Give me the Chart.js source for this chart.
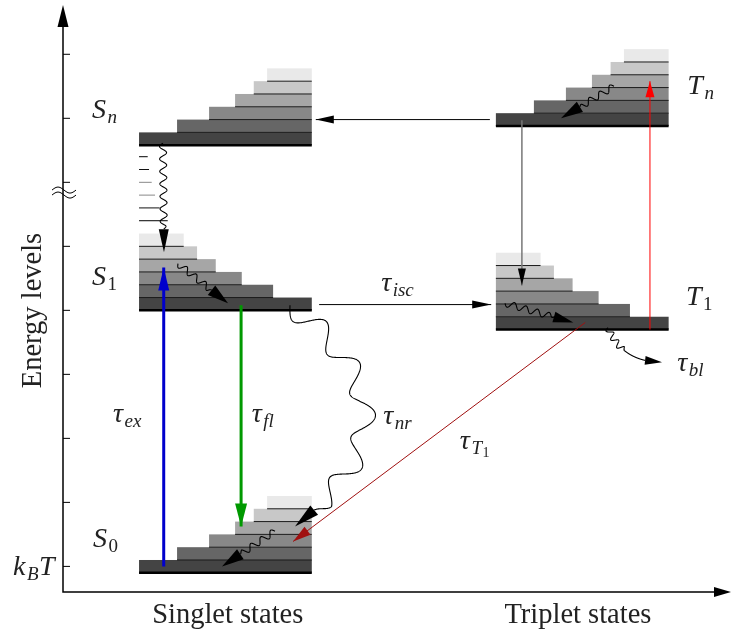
<!DOCTYPE html>
<html>
<head>
<meta charset="utf-8">
<script src="https://cdn.jsdelivr.net/npm/chart.js@4.4.1/dist/chart.umd.min.js"></script>
<style>
  html, body { margin: 0; padding: 0; background: #fff; }
  #wrap { width: 736px; height: 633px; }
</style>
</head>
<body>
<div id="wrap"><canvas id="chart"></canvas></div>
<script>
// energy axis ticks and the break mark
const yTicks = [0, 1, 2, 3, 4, 5, 6, 7, 8];
const breakAt = 5.84;

// electronic states: left edge, lowest level, stair direction
const levelNames = ["S0", "S1", "Sn", "T1", "Tn"];
const levelLeft = [11.4, 11.4, 11.4, 64.9, 64.9];
const levelBase = [-0.1, 4.0, 6.58, 3.7, 6.88];
const levelStairs = ["up", "down", "up", "down", "up"];
const levelWidth = 25.9;
const bandHeight = 0.2;
const stairUpStart = [0, 5.7, 10.5, 14.4, 17.2, 19.2];
const stairDownWidth = [25.9, 20.1, 15.4, 11.5, 8.7, 6.7];
const bandShades = ["#444444", "#666666", "#888888", "#a6a6a6", "#c8c8c8", "#e9e9e9"];

// vibrational dashes between S1 and Sn
const dashLevels = [5.4, 5.6, 5.8, 6.0, 6.2, 6.4];
const dashRight = [15.7, 14.5, 13.8, 13.3, 12.9, 12.7];
const dashShade = ["#000000", "#111111", "#888888", "#888888", "#111111", "#000000"];

// straight transitions
const arrowFrom = [[64.0, 6.98], [68.8, 6.97], [88.0, 3.70], [38.4, 4.09], [15.1, 0.0], [26.7, 4.08], [78.3, 3.81]];
const arrowTo = [[37.9, 6.98], [68.8, 4.39], [88.0, 7.58], [64.2, 4.09], [15.1, 4.67], [26.7, 0.625], [34.5, 0.39]];
const arrowColor = ["#000000", "#777777", "#ff0000", "#000000", "#0000cc", "#009900", "#a01010"];
const arrowHeadColor = ["#000000", "#000000", "#ff0000", "#000000", "#0000cc", "#009900", "#a01010"];
const arrowWidth = [1, 1.5, 1, 1, 3, 3, 1];
const arrowHead = [18, 17, 16, 19, 23, 23, 18];
const arrowHalf = [4, 4, 4.5, 4, 5.5, 6, 5];

// wavy (non-radiative) transitions: start, bend, tip
const waveFrom = [[14.99, 6.61], [17.24, 4.73], [34.03, 4.08], [31.78, 0.55], [82.61, 7.5], [66.27, 4.11], [81.71, 3.73]];
const waveBend = [null, null, [56.0, 2.36], null, null, null, [83.81, 3.19]];
const waveTo = [[15.14, 4.906], [24.74, 4.109], [34.78, 0.625], [23.84, 0.0], [74.66, 7.0], [76.5, 3.81], [89.81, 3.19]];
const waveAmp = [3.5, 3.2, 11, 3.2, 3.2, 3.2, 3.2];
const waveLen = [12.5, 12, 50, 12, 12, 12, 9.5];
const waveSpan = [1, 1, 1, 1, 1, 1, 0.55];
const waveHead = [23, 21, 25, 22, 22, 20, 17];
const waveHalf = [5, 6, 6, 6, 6, 5.5, 4.5];

// symbols: pieces are [text, level] with 0 = normal, 1 = subscript, 2 = sub-subscript
const labelX = [4.35, 4.35, 4.5, -7.5, 93.6, 93.4, 47.7, 7.5, 28.3, 48.0, 59.5, 92.1];
const labelY = [7.0, 4.39, 0.31, -0.14, 7.375, 4.08, 4.30, 2.25, 2.25, 2.23, 1.84, 3.06];
const labelParts = [
  [["S", 0], ["n", 1]],
  [["S", 0], ["1", 1]],
  [["S", 0], ["0", 1]],
  [["k", 0], ["B", 1], ["T", 0]],
  [["T", 0], ["n", 1]],
  [["T", 0], ["1", 1]],
  [["τ", 0], ["isc", 1]],
  [["τ", 0], ["ex", 1]],
  [["τ", 0], ["fl", 1]],
  [["τ", 0], ["nr", 1]],
  [["τ", 0], ["T", 1], ["1", 2]],
  [["τ", 0], ["bl", 1]]
];

const axisTitleY = "Energy levels";
const groupNames = ["Singlet states", "Triplet states"];
const groupCenter = [24.7, 77.2];

const serif = '"Liberation Serif", "DejaVu Serif", serif';

function bez(p0, p1, p2, t) {
  const u = 1 - t;
  return [u * u * p0[0] + 2 * u * t * p1[0] + t * t * p2[0],
          u * u * p0[1] + 2 * u * t * p1[1] + t * t * p2[1]];
}

function headAt(ctx, bx, by, tx, ty, hw, color) {
  const dx = tx - bx, dy = ty - by, l = Math.hypot(dx, dy) || 1;
  const nx = -dy / l, ny = dx / l;
  ctx.fillStyle = color;
  ctx.beginPath();
  ctx.moveTo(tx, ty);
  ctx.lineTo(bx + nx * hw, by + ny * hw);
  ctx.lineTo(bx - nx * hw, by - ny * hw);
  ctx.closePath();
  ctx.fill();
}

function drawWave(ctx, p0, p1, p2, amp, wl, span, head, hw) {
  const N = 600, pts = [], lens = [0];
  let L = 0;
  for (let i = 0; i <= N; i++) {
    pts.push(bez(p0, p1, p2, i / N));
    if (i) { L += Math.hypot(pts[i][0] - pts[i - 1][0], pts[i][1] - pts[i - 1][1]); lens.push(L); }
  }
  const endL = L - head, waveEnd = endL * span;
  ctx.strokeStyle = "#000";
  ctx.lineWidth = 1.1;
  ctx.beginPath();
  let last = 0;
  for (let i = 0; i <= N; i++) {
    const s = lens[i];
    if (s > endL) break;
    last = i;
    const a = Math.min(i, N - 1);
    const tx = pts[a + 1][0] - pts[a][0], ty = pts[a + 1][1] - pts[a][1], tl = Math.hypot(tx, ty) || 1;
    const env = Math.max(0, Math.min(1, (waveEnd - s) / (wl * 0.3)));
    const off = amp * Math.sin(2 * Math.PI * s / wl) * env;
    const px = pts[i][0] - ty / tl * off, py = pts[i][1] + tx / tl * off;
    if (i === 0) ctx.moveTo(px, py); else ctx.lineTo(px, py);
  }
  ctx.stroke();
  headAt(ctx, pts[last][0], pts[last][1], p2[0], p2[1], hw, "#000");
}

function drawLabel(ctx, x, y, parts) {
  let cx = x;
  ctx.textBaseline = "alphabetic";
  ctx.textAlign = "left";
  ctx.fillStyle = "#222";
  parts.forEach(([t, lvl]) => {
    const size = lvl === 0 ? 28 : lvl === 1 ? 19 : 14;
    const dy = lvl === 0 ? 0 : lvl === 1 ? 5 : 8;
    const italic = /[0-9]/.test(t) ? "" : "italic ";
    ctx.font = italic + size + "px " + serif;
    ctx.fillText(t, cx, y + dy);
    cx += ctx.measureText(t).width + (lvl === 0 ? 1.5 : 0.5);
  });
}

const diagram = {
  id: "jablonski",
  beforeDatasetsDraw(chart) {
    const { ctx, scales: { x, y } } = chart;
    const X = v => x.getPixelForValue(v), Y = v => y.getPixelForValue(v);
    ctx.save();
    levelNames.forEach((name, i) => {
      for (let k = 0; k < bandShades.length; k++) {
        const lo = levelBase[i] + k * bandHeight, hi = lo + bandHeight;
        let a, b;
        if (levelStairs[i] === "up") { a = levelLeft[i] + stairUpStart[k]; b = levelLeft[i] + levelWidth; }
        else { a = levelLeft[i]; b = levelLeft[i] + stairDownWidth[k]; }
        ctx.fillStyle = bandShades[k];
        ctx.fillRect(X(a), Y(hi), X(b) - X(a), Y(lo) - Y(hi));
      }
      for (let k = 0; k < bandShades.length; k++) {
        const lo = levelBase[i] + k * bandHeight;
        let a, b;
        if (levelStairs[i] === "up") { a = levelLeft[i] + stairUpStart[k]; b = levelLeft[i] + levelWidth; }
        else { a = levelLeft[i]; b = levelLeft[i] + stairDownWidth[k]; }
        ctx.strokeStyle = k === 0 ? "#000" : "#1a1a1a";
        ctx.lineWidth = k === 0 ? 2.5 : 1;
        ctx.beginPath();
        ctx.moveTo(X(a), Y(lo));
        ctx.lineTo(X(b), Y(lo));
        ctx.stroke();
      }
    });
    dashLevels.forEach((v, i) => {
      ctx.strokeStyle = dashShade[i];
      ctx.lineWidth = 1;
      ctx.beginPath();
      ctx.moveTo(X(levelLeft[1]), Y(v));
      ctx.lineTo(X(dashRight[i]), Y(v));
      ctx.stroke();
    });
    ctx.restore();
  },
  afterDraw(chart) {
    const { ctx, chartArea: area, scales: { x, y } } = chart;
    const X = v => x.getPixelForValue(v), Y = v => y.getPixelForValue(v);
    ctx.save();

    // axes with arrows
    ctx.strokeStyle = "#000";
    ctx.lineWidth = 1.5;
    ctx.beginPath();
    ctx.moveTo(area.left, area.top + 15);
    ctx.lineTo(area.left, area.bottom);
    ctx.lineTo(area.right - 12, area.bottom);
    ctx.stroke();
    headAt(ctx, area.left, area.top + 22, area.left, area.top, 5.5, "#000");
    headAt(ctx, area.right - 16, area.bottom, area.right + 1, area.bottom, 5, "#000");

    ctx.lineWidth = 1;
    yTicks.forEach(v => {
      ctx.beginPath();
      ctx.moveTo(area.left, Y(v));
      ctx.lineTo(area.left + 7, Y(v));
      ctx.stroke();
    });

    // axis break
    const by = Y(breakAt);
    [-2.5, 2.5].forEach(o => {
      ctx.beginPath();
      for (let i = 0; i <= 24; i++) {
        const px = area.left - 11 + i;
        const py = by + o - 3 * Math.sin((i / 24) * 2 * Math.PI);
        if (i === 0) ctx.moveTo(px, py); else ctx.lineTo(px, py);
      }
      ctx.stroke();
    });

    // straight arrow heads
    arrowTo.forEach((t, i) => {
      const f = arrowFrom[i];
      const tx = X(t[0]), ty = Y(t[1]), fx = X(f[0]), fy = Y(f[1]);
      const l = Math.hypot(tx - fx, ty - fy);
      const bx = tx - (tx - fx) / l * arrowHead[i], byy = ty - (ty - fy) / l * arrowHead[i];
      headAt(ctx, bx, byy, tx, ty, arrowHalf[i], arrowHeadColor[i]);
    });

    // wavy transitions
    waveFrom.forEach((f, i) => {
      const t = waveTo[i];
      const b = waveBend[i] || [(f[0] + t[0]) / 2, (f[1] + t[1]) / 2];
      drawWave(ctx, [X(f[0]), Y(f[1])], [X(b[0]), Y(b[1])], [X(t[0]), Y(t[1])],
        waveAmp[i], waveLen[i], waveSpan[i], waveHead[i], waveHalf[i]);
    });

    // symbols
    labelParts.forEach((parts, i) => drawLabel(ctx, X(labelX[i]), Y(labelY[i]), parts));

    // titles
    ctx.fillStyle = "#222";
    ctx.font = "28.5px " + serif;
    ctx.textAlign = "center";
    ctx.textBaseline = "alphabetic";
    groupNames.forEach((g, i) => ctx.fillText(g, X(groupCenter[i]), area.bottom + 31));
    ctx.translate(area.left - 22, (area.top + area.bottom) / 2 + 12);
    ctx.rotate(-Math.PI / 2);
    ctx.fillText(axisTitleY, 0, 0);
    ctx.restore();
  }
};

const datasets = arrowFrom.map((f, i) => ({
  data: [{ x: f[0], y: f[1] }, { x: arrowTo[i][0], y: arrowTo[i][1] }],
  showLine: true,
  borderColor: arrowColor[i],
  borderWidth: arrowWidth[i],
  pointRadius: 0,
  fill: false
}));

new Chart(document.getElementById("chart"), {
  type: "scatter",
  data: { datasets },
  options: {
    animation: false,
    responsive: true,
    maintainAspectRatio: false,
    events: [],
    layout: { padding: { left: 63, right: 6, top: 5, bottom: 41 } },
    plugins: { legend: { display: false }, tooltip: { enabled: false } },
    scales: {
      x: { type: "linear", min: 0, max: 100, display: false },
      y: { type: "linear", min: -0.4, max: 8.77, display: false }
    }
  },
  plugins: [diagram]
});
</script>
</body>
</html>
